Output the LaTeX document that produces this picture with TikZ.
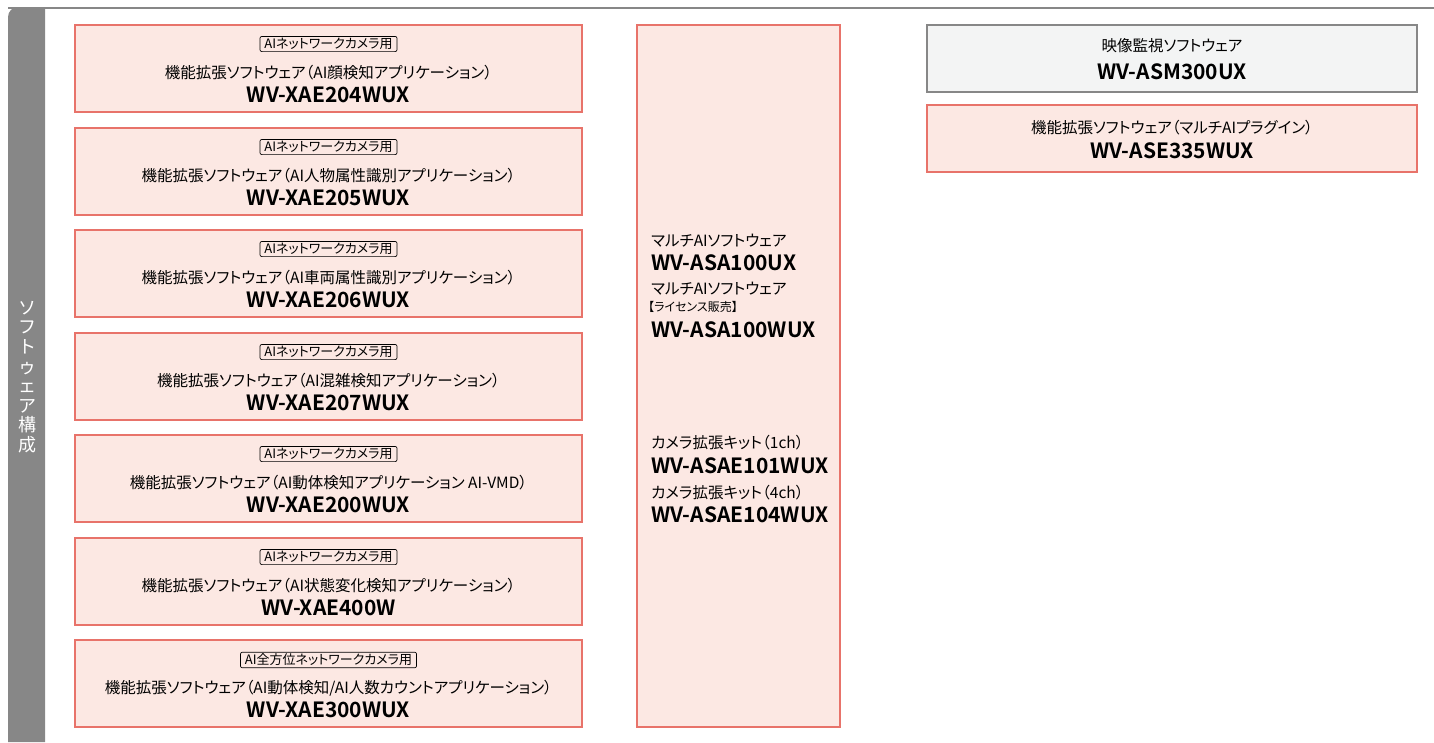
\documentclass[tikz,border=0pt]{standalone}
\usepackage{fontspec}
\setmainfont{Noto Sans CJK JP}[BoldFont={Noto Sans CJK JP Bold},RawFeature=+palt]
\newfontfamily\barfont{Noto Sans CJK JP}
\usetikzlibrary{positioning}

\definecolor{boxpink}{HTML}{FCE8E3}
\definecolor{boxred}{HTML}{E8736A}
\definecolor{bargray}{HTML}{878787}
\definecolor{boxgray}{HTML}{F3F4F4}

\tikzset{
  appbox/.style={draw=boxred,fill=boxpink,line width=1.3pt,
    minimum width=507pt,minimum height=87pt,inner sep=0pt},
  tagbox/.style={draw=black,rounded corners=2pt,line width=0.7pt,
    inner xsep=4.5pt,inner ysep=1.8pt,font=\fontsize{13}{13}\selectfont},
  jtext/.style={inner sep=0pt,font=\fontsize{15.5}{15.5}\selectfont},
  small/.style={inner sep=0pt,font=\fontsize{12}{12}\selectfont},
  model/.style={inner sep=0pt,font=\fontsize{21}{21}\selectfont\bfseries},
}

\begin{document}
\begin{tikzpicture}[x=1pt,y=-1pt]
    \useasboundingbox (0,0) rectangle (1434,742);

    % frame and side bar
    \draw [bargray,line width=2.5pt] (8,8) -- (1434,8);
    \fill [bargray] (8,742) [rounded corners=10pt] -- (8,7)
      [sharp corners] -- (45,7) -- (45,742) -- cycle;
    \node [white,align=center,inner sep=0pt,
      font=\barfont\fontsize{18}{19.6}\selectfont] (bar) at (27,377)
      {ソ\\フ\\ト\\ゥ\\ェ\\ア\\構\\成};

    % left column
    \node [appbox] (fa) at (328.5,68.5) {};
    \node [tagbox] (fatag) at (328.5,44) {AIネットワークカメラ用};
    \node [jtext] (faname) at (328.5,73) {機能拡張ソフトウェア（AI顔検知アプリケーション）};
    \node [model] (famodel) at (328.5,95) {WV-XAE204WUX};

    \node [appbox] (fb) at (328.5,171.5) {};
    \node [tagbox] (fbtag) at (328.5,147) {AIネットワークカメラ用};
    \node [jtext] (fbname) at (328.5,176) {機能拡張ソフトウェア（AI人物属性識別アプリケーション）};
    \node [model] (fbmodel) at (328.5,198) {WV-XAE205WUX};

    \node [appbox] (fc) at (328.5,273.5) {};
    \node [tagbox] (fctag) at (328.5,249) {AIネットワークカメラ用};
    \node [jtext] (fcname) at (328.5,278) {機能拡張ソフトウェア（AI車両属性識別アプリケーション）};
    \node [model] (fcmodel) at (328.5,300) {WV-XAE206WUX};

    \node [appbox] (fd) at (328.5,376.5) {};
    \node [tagbox] (fdtag) at (328.5,352) {AIネットワークカメラ用};
    \node [jtext] (fdname) at (328.5,381) {機能拡張ソフトウェア（AI混雑検知アプリケーション）};
    \node [model] (fdmodel) at (328.5,403) {WV-XAE207WUX};

    \node [appbox] (fe) at (328.5,478.5) {};
    \node [tagbox] (fetag) at (328.5,454) {AIネットワークカメラ用};
    \node [jtext] (fename) at (328.5,483) {機能拡張ソフトウェア（AI動体検知アプリケーション AI-VMD）};
    \node [model] (femodel) at (328.5,505) {WV-XAE200WUX};

    \node [appbox] (ff) at (328.5,581.5) {};
    \node [tagbox] (fftag) at (328.5,557) {AIネットワークカメラ用};
    \node [jtext] (ffname) at (328.5,586) {機能拡張ソフトウェア（AI状態変化検知アプリケーション）};
    \node [model] (ffmodel) at (328.5,608) {WV-XAE400W};

    \node [appbox] (fg) at (328.5,683.5) {};
    \node [tagbox] (fgtag) at (328.5,660) {AI全方位ネットワークカメラ用};
    \node [jtext] (fgname) at (328.5,688) {機能拡張ソフトウェア（AI動体検知/AI人数カウントアプリケーション）};
    \node [model] (fgmodel) at (328.5,710) {WV-XAE300WUX};

    % middle column
    \node [appbox,minimum width=203pt,minimum height=702pt] (multi) at (738.5,376) {};
    \node [jtext,anchor=west] (maname) at (651,241) {マルチAIソフトウェア};
    \node [model,anchor=west] (mamodel) at (651,263) {WV-ASA100UX};
    \node [jtext,anchor=west] (mbname) at (651,289) {マルチAIソフトウェア};
    \node [small,anchor=west] (mbnote) at (648,307) {【ライセンス販売】};
    \node [model,anchor=west] (mbmodel) at (651,330) {WV-ASA100WUX};
    \node [jtext,anchor=west] (kaname) at (651,443) {カメラ拡張キット（1ch）};
    \node [model,anchor=west] (kamodel) at (651,466) {WV-ASAE101WUX};
    \node [jtext,anchor=west] (kbname) at (651,493) {カメラ拡張キット（4ch）};
    \node [model,anchor=west] (kbmodel) at (651,515) {WV-ASAE104WUX};

    % right column
    \node [appbox,draw=bargray,fill=boxgray,minimum width=490pt,minimum height=67pt]
      (vms) at (1172,58.5) {};
    \node [jtext] (vmsname) at (1172,46) {映像監視ソフトウェア};
    \node [model] (vmsmodel) at (1172,72) {WV-ASM300UX};

    \node [appbox,minimum width=490pt,minimum height=67pt] (plug) at (1172,138.5) {};
    \node [jtext] (plugname) at (1172,128) {機能拡張ソフトウェア（マルチAIプラグイン）};
    \node [model] (plugmodel) at (1172,151) {WV-ASE335WUX};
\end{tikzpicture}
\end{document}
